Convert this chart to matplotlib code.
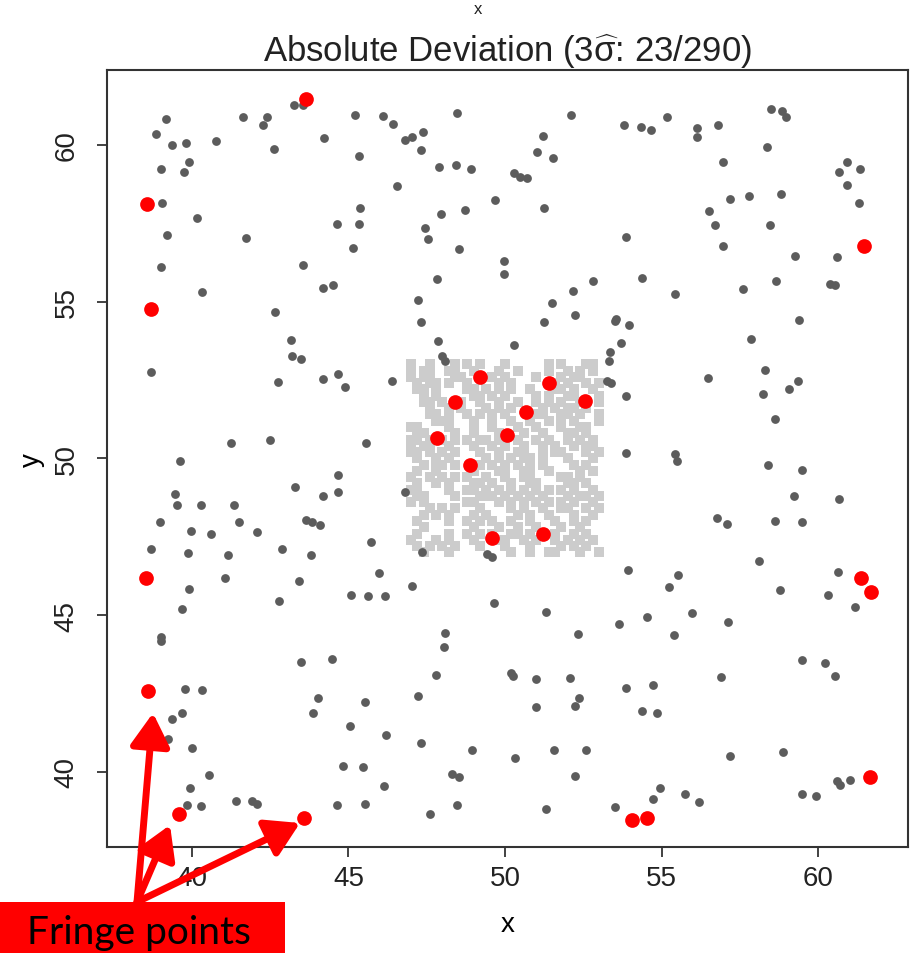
import numpy as np
import matplotlib
matplotlib.use("Agg")
import matplotlib.pyplot as plt
from matplotlib.patches import FancyArrowPatch, Rectangle

plt.rcParams['font.family'] = ['Liberation Sans', 'DejaVu Sans']
plt.rcParams['mathtext.fontset'] = 'custom'
plt.rcParams['mathtext.rm'] = 'Liberation Sans'
plt.rcParams['mathtext.it'] = 'Liberation Sans'

# Ordinary points (dark grey)
dark_pts = [
    # upper left
    (39.18, 60.83), (38.84, 60.34), (39.37, 59.99), (39.82, 60.06), (40.77, 60.13), (39.91, 59.45),
    (39.00, 59.23), (39.76, 59.12), (41.62, 60.88), (42.40, 60.90), (42.28, 60.62), (43.25, 61.26),
    (43.56, 61.26), (45.22, 60.95), (44.22, 60.21), (42.63, 59.88), (45.35, 59.66), (39.06, 58.16),
    (40.15, 57.68), (39.22, 57.11), (41.73, 57.03), (45.38, 57.98), (44.63, 57.49), (45.34, 57.49),
    (45.16, 56.71), (43.55, 56.17), (39.00, 56.11), (44.20, 55.42), (44.52, 55.53), (40.32, 55.30),
    (42.65, 54.67),
    # upper middle
    (46.12, 60.93), (46.43, 60.67), (46.82, 60.17), (47.04, 60.26), (47.39, 60.41), (47.31, 59.84),
    (48.47, 61.01), (47.89, 59.29), (48.42, 59.35), (48.92, 59.23), (46.55, 58.68), (50.29, 59.10),
    (50.48, 58.99), (50.71, 58.94), (49.68, 58.24), (52.10, 60.95), (51.21, 60.29), (51.02, 59.76),
    (51.53, 59.58), (51.23, 57.98), (53.80, 60.62), (47.96, 57.81), (48.72, 57.92), (47.46, 57.35),
    (47.54, 57.00), (48.52, 56.68), (49.97, 56.31), (49.97, 55.89), (53.86, 57.07), (47.84, 55.73),
    (52.82, 55.67), (47.23, 55.04), (52.18, 55.35), (51.49, 54.97), (47.32, 54.34), (51.24, 54.34),
    (52.23, 54.57), (53.51, 54.39), (53.56, 54.44), (53.95, 54.26),
    # upper right
    (54.34, 60.56), (54.65, 60.47), (55.18, 60.90), (56.12, 60.53), (56.12, 60.26), (56.81, 60.62),
    (58.50, 61.13), (58.86, 61.09), (58.96, 60.88), (58.38, 59.93), (56.95, 59.44), (60.93, 59.45),
    (60.68, 59.12), (61.34, 59.22), (60.92, 58.71), (61.30, 58.16), (57.17, 58.27), (57.80, 58.37),
    (58.80, 58.42), (56.53, 57.89), (56.71, 57.44), (58.45, 57.44), (56.97, 56.78), (59.26, 56.47),
    (60.61, 56.42), (54.39, 55.74), (55.42, 55.24), (57.59, 55.39), (58.64, 55.65), (60.37, 55.56),
    (60.55, 55.53), (59.39, 54.40),
    # middle left
    (38.71, 52.75), (43.18, 53.79), (43.21, 53.25), (43.50, 53.16), (42.74, 52.45), (44.18, 52.52),
    (44.66, 52.70), (44.89, 52.28), (41.24, 50.48), (42.49, 50.57), (45.56, 50.50), (39.61, 49.91),
    (44.66, 49.46), (44.66, 48.92), (43.31, 49.08), (44.19, 48.79), (39.45, 48.86), (39.53, 48.52),
    (40.29, 48.50), (41.35, 48.51), (38.99, 47.98), (39.96, 47.69), (40.61, 47.60), (41.51, 47.96),
    (42.09, 47.66), (43.66, 48.04), (43.85, 47.98), (44.08, 47.86), (38.71, 47.11), (39.87, 46.98),
    (41.15, 46.93), (42.87, 47.11), (43.80, 46.91), (45.71, 47.32), (41.07, 46.18), (43.41, 46.09),
    # centre
    (47.87, 53.74), (47.98, 53.28), (48.08, 53.12), (50.30, 53.63), (46.40, 52.48), (53.35, 53.39),
    (53.72, 53.68), (53.32, 53.10), (53.26, 52.46), (53.37, 52.40), (53.85, 51.98), (53.86, 50.17),
    (46.81, 48.94), (45.97, 46.34), (47.34, 47.02), (49.41, 46.95), (49.57, 46.86), (53.93, 46.45),
    (47.04, 45.94),
    # middle right
    (57.87, 53.82), (58.31, 52.81), (56.49, 52.56), (58.25, 52.05), (59.06, 52.22), (59.36, 52.47),
    (58.63, 51.27), (55.44, 50.15), (55.50, 49.92), (58.39, 49.79), (59.49, 49.64), (59.24, 48.79),
    (60.67, 48.69), (56.76, 48.11), (57.10, 47.92), (58.63, 48.01), (59.47, 47.97), (58.10, 46.74),
    (60.62, 46.36), (55.51, 46.27),
    # lower left
    (39.90, 45.83), (39.69, 45.18), (39.00, 44.29), (39.00, 44.16), (42.77, 45.46), (45.07, 45.63),
    (45.62, 45.62), (43.50, 43.50), (44.47, 43.61), (39.78, 42.63), (40.34, 42.62), (39.69, 41.88),
    (39.37, 41.68), (39.23, 41.04), (40.01, 40.77), (44.04, 42.35), (43.88, 41.87), (45.53, 42.22),
    (45.06, 41.47), (40.56, 39.90), (39.93, 39.48), (39.84, 38.94), (40.30, 38.91), (41.41, 39.06),
    (41.92, 39.06), (42.08, 38.97), (44.83, 40.18), (45.45, 40.16), (44.62, 38.94), (45.54, 38.96),
    # lower middle
    (46.18, 45.62), (49.66, 45.38), (51.30, 45.09), (53.64, 44.73), (48.10, 44.42), (48.05, 43.99),
    (52.34, 44.39), (47.80, 43.10), (50.19, 43.14), (50.24, 43.05), (51.00, 42.95), (52.06, 42.99),
    (53.86, 42.66), (47.21, 42.43), (50.98, 42.08), (52.37, 42.36), (52.25, 42.09), (46.19, 41.17),
    (47.32, 40.92), (48.96, 40.70), (50.33, 40.43), (51.55, 40.70), (52.59, 40.68), (48.32, 39.93),
    (48.52, 39.84), (52.24, 39.87), (46.13, 39.54), (48.47, 38.94), (47.62, 38.65), (51.30, 38.80),
    (53.51, 38.88),
    # lower right
    (55.25, 45.90), (58.79, 45.80), (60.31, 45.64), (61.18, 45.27), (54.52, 44.95), (55.98, 45.08),
    (57.12, 44.79), (55.41, 44.36), (59.49, 43.56), (60.21, 43.46), (60.53, 43.04), (56.90, 43.01),
    (54.72, 42.78), (54.37, 41.95), (54.85, 41.88), (57.20, 40.50), (58.89, 40.64), (60.61, 39.71),
    (60.69, 39.59), (61.03, 39.73), (59.47, 39.29), (59.92, 39.23), (54.95, 39.48), (54.74, 39.14),
    (55.74, 39.29), (56.20, 39.04),
]

# Flagged points (red): 10 inside the centre block, 13 on the fringe
red_x = [49.19, 51.41, 48.40, 52.57, 50.67, 47.82, 50.07, 48.88, 49.59, 51.22,
         38.58, 38.70, 38.54, 38.59, 39.59, 43.65, 43.59, 54.07, 54.55, 61.47, 61.38, 61.70, 61.65]
red_y = [52.59, 52.40, 51.80, 51.83, 51.47, 50.65, 50.75, 49.79, 47.45, 47.58,
         58.11, 54.78, 46.18, 42.59, 38.65, 61.48, 38.54, 38.47, 38.51, 56.76, 46.18, 45.72, 39.82]

# Centre block (light grey squares): occupied cells on a 0.2 grid, x from 47, y down from 53
grid_x0, grid_y0, grid_step = 47.0, 53.0, 0.2
center_rows = [
    [0, 3, 7, 9, 11, 15, 22, 24, 28, 29],
    [0, 2, 3, 6, 7, 10, 14, 17, 22, 25, 27, 29],
    [0, 2, 3, 7, 8, 13, 15, 20, 24, 26, 27],
    [1, 3, 4, 6, 9, 14, 16, 23, 25, 28, 30],
    [1, 2, 4, 9, 10, 12, 14, 16, 19, 23, 24, 26, 29],
    [2, 4, 10, 11, 13, 15, 20, 22, 25, 26, 30],
    [2, 3, 5, 8, 11, 14, 17, 20, 22, 24, 27, 30],
    [3, 6, 8, 12, 14, 16, 21, 23, 25, 26, 28],
    [3, 4, 6, 9, 11, 13, 15, 20, 21, 24, 25, 27, 30],
    [4, 5, 6, 10, 13, 16, 19, 22, 24, 26, 30],
    [0, 1, 6, 10, 13, 17, 20, 24, 27, 28],
    [1, 2, 7, 10, 14, 18, 21, 25, 26, 28],
    [0, 1, 3, 5, 7, 9, 11, 12, 14, 17, 20, 22, 25, 27, 29],
    [0, 2, 3, 6, 10, 13, 15, 18, 21, 23, 26, 28, 29],
    [0, 1, 3, 5, 7, 11, 14, 17, 18, 21, 23, 24, 28, 30],
    [1, 4, 6, 12, 14, 16, 18, 19, 21, 25, 29],
    [2, 4, 5, 7, 11, 13, 15, 17, 19, 21, 26, 28],
    [1, 4, 10, 14, 15, 18, 19, 22, 27, 29],
    [0, 3, 5, 7, 9, 12, 15, 18, 19, 24, 25, 27],
    [1, 4, 6, 10, 11, 13, 16, 19, 20, 25, 26, 28],
    [0, 1, 6, 9, 10, 12, 14, 16, 18, 20, 22, 24, 26, 29],
    [1, 2, 7, 11, 12, 13, 15, 17, 19, 21, 25, 27, 28, 30],
    [0, 2, 9, 10, 14, 16, 18, 20, 22, 24, 26, 29],
    [3, 5, 7, 11, 16, 18, 21, 24, 25, 28, 30],
    [2, 4, 6, 10, 12, 17, 19, 22, 26, 29],
    [1, 6, 9, 11, 13, 16, 19, 23, 26, 28],
    [2, 10, 14, 17, 20, 24, 27],
    [1, 6, 9, 11, 13, 16, 17, 19, 23, 26, 28],
    [0, 4, 6, 10, 14, 15, 18, 20, 23, 25, 27, 29],
    [1, 3, 5, 7, 11, 15, 19, 24, 26, 28],
    [2, 6, 16, 19, 22, 23, 27, 30],
]

x_ticks = [40, 45, 50, 55, 60]
y_ticks = [40, 45, 50, 55, 60]

sq_x = [grid_x0 + grid_step * c for r, cols in enumerate(center_rows) for c in cols]
sq_y = [grid_y0 - grid_step * r for r, cols in enumerate(center_rows) for c in cols]
dark = np.array(dark_pts)

fig = plt.figure(figsize=(9.13, 9.54), dpi=100)
ax = fig.add_axes([0.1175, 0.1108, 0.8774, 0.8148])

ax.scatter(sq_x, sq_y, marker='s', s=46, color='#cccccc', linewidths=0, zorder=2)
ax.scatter(dark[:, 0], dark[:, 1], marker='o', s=40, color='#5c5c5c', linewidths=0, zorder=3)
ax.scatter(red_x, red_y, marker='o', s=112, color='#ff0000', linewidths=0, zorder=4)

ax.set_xlim(37.3, 62.88)
ax.set_ylim(37.59, 62.39)
ax.set_xticks(x_ticks)
ax.set_yticks(y_ticks)
ax.tick_params(direction='out', length=7, width=1.2, labelsize=20, colors='#222222')
ax.tick_params(axis='x', pad=6)
ax.tick_params(axis='y', pad=13, labelrotation=90)
for lbl in ax.get_yticklabels():
    lbl.set_va('center')
for sp in ax.spines.values():
    sp.set_linewidth(1.5)
    sp.set_color('#333333')

ax.set_xlabel('x', fontsize=20, labelpad=14)
ax.set_ylabel('y', fontsize=20, labelpad=6)
ax.set_title(r'Absolute Deviation (3$\widehat{\sigma}$: 23/290)', fontsize=25, pad=6, color='#222222')

# leftover label of the panel above, at the very top edge
fig.text(478 / 913, 1 - 14 / 954, 'x', fontsize=12, ha='center', va='baseline', color='#222222')

# "Fringe points" callout
fig.add_artist(Rectangle((0, 0), 285 / 913, 51 / 954, transform=fig.transFigure,
                         facecolor='#ff0000', edgecolor='none', zorder=5))
fig.text(27 / 913, 1 - 944 / 954, 'Fringe points', fontsize=28, family='Lato',
         va='baseline', ha='left', color='black', zorder=6)

start = (137 / 913, 1 - 903 / 954)
for tip in [(153 / 913, 1 - 714 / 954), (170 / 913, 1 - 826 / 954), (300 / 913, 1 - 824 / 954)]:
    fig.add_artist(FancyArrowPatch(start, tip, transform=fig.transFigure,
                                   arrowstyle='-|>,head_length=20,head_width=12',
                                   mutation_scale=1, lw=5, color='#ff0000',
                                   shrinkA=0, shrinkB=0, zorder=5))

fig.savefig('out.png', dpi=100)
